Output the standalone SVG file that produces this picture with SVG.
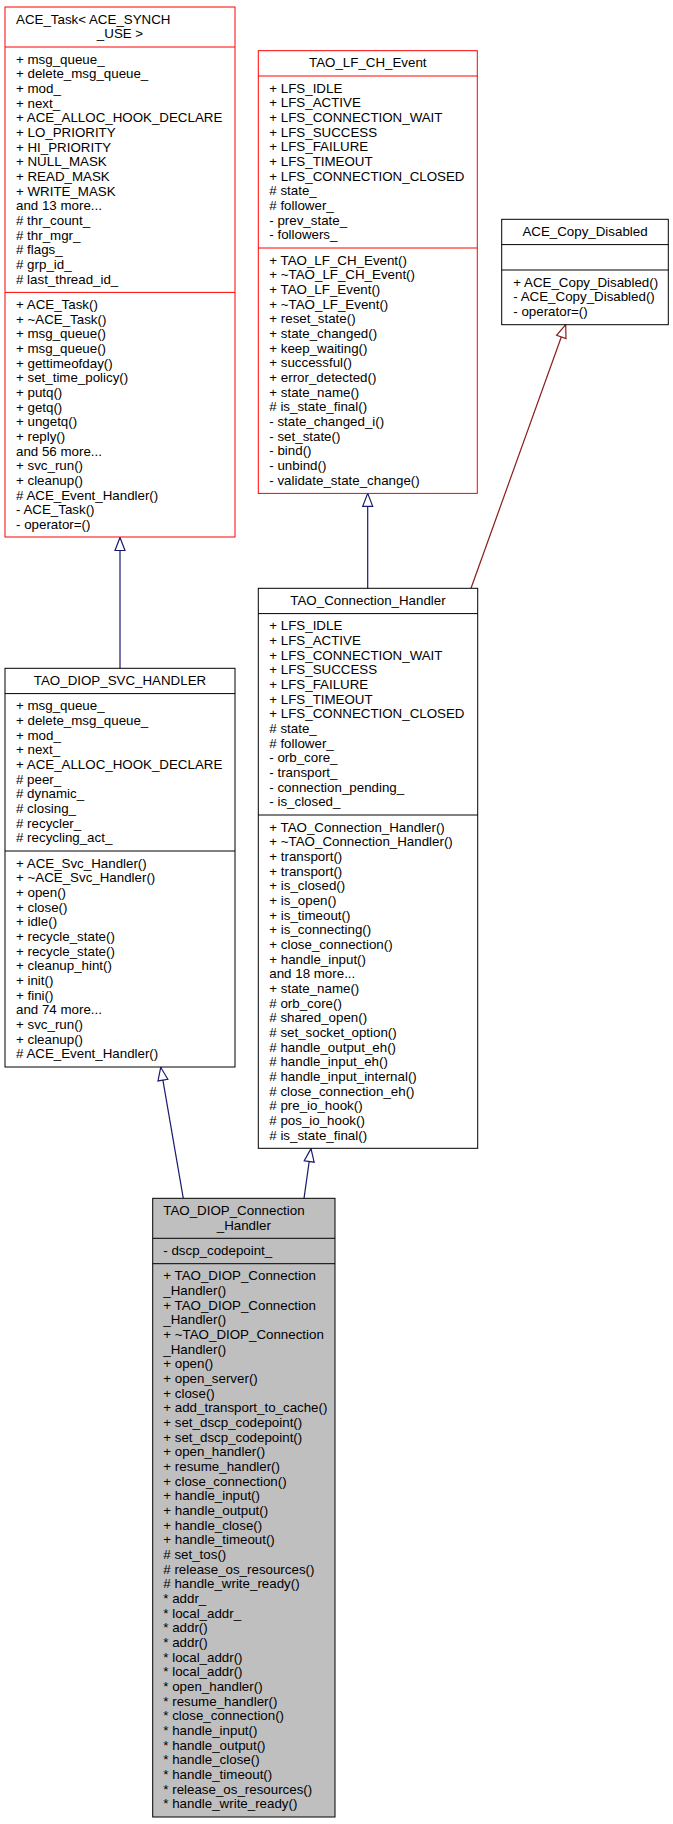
<svg xmlns="http://www.w3.org/2000/svg" width="673" height="1824" viewBox="0 0 673 1824">
<style>
.box{fill:#ffffff;stroke:#000000;stroke-width:1}
.red{stroke:#ff0000}
.grey{fill:#bfbfbf}
.sep{stroke:#000000;stroke-width:1}
.sepr{stroke:#ff0000;stroke-width:1}
.t{font-family:"Liberation Sans",Arial,Helvetica,sans-serif;font-size:13.33px;fill:#000000}
.c{text-anchor:middle}
.pub{fill:none;stroke:#191970;stroke-width:1.2}
.priv{fill:none;stroke:#8b1a1a;stroke-width:1.2}
</style>
<defs>
<marker id="aBlue" viewBox="-1 -7 16 14" refX="13" refY="0" markerWidth="16" markerHeight="14" orient="auto" markerUnits="userSpaceOnUse">
<path d="M13,0 L0,-5 L0,5 Z" fill="#ffffff" stroke="#191970" stroke-width="1.2"/>
</marker>
<marker id="aRed" viewBox="-1 -7 16 14" refX="13" refY="0" markerWidth="16" markerHeight="14" orient="auto" markerUnits="userSpaceOnUse">
<path d="M13,0 L0,-5 L0,5 Z" fill="#ffffff" stroke="#8b1a1a" stroke-width="1.2"/>
</marker>
</defs>
<rect width="673" height="1824" fill="#ffffff"/>

<g id="connectors">
<path class="pub" d="M120,668.3 L120,537.5" marker-end="url(#aBlue)"/>
<path class="pub" d="M367.7,588.3 L367.7,493.4" marker-end="url(#aBlue)"/>
<path class="priv" d="M471,588.3 L565.7,324.7" marker-end="url(#aRed)"/>
<path class="pub" d="M183.3,1198.3 L160.7,1067.3" marker-end="url(#aBlue)"/>
<path class="pub" d="M304,1198.3 L311,1148.6" marker-end="url(#aBlue)"/>
</g>

<g id="node_ACE_Task">
<rect class="box red" x="5" y="7" width="230" height="530"/>
<line class="sepr" x1="5" y1="47" x2="235" y2="47"/>
<line class="sepr" x1="5" y1="292.4" x2="235" y2="292.4"/>
<text class="t" x="16" y="23.6">ACE_Task&lt; ACE_SYNCH</text>
<text class="t c" x="120" y="38.3">_USE &gt;</text>
<text class="t" x="16" y="63.6">
<tspan x="16" dy="0">+ msg_queue_</tspan>
<tspan x="16" dy="14.67">+ delete_msg_queue_</tspan>
<tspan x="16" dy="14.67">+ mod_</tspan>
<tspan x="16" dy="14.67">+ next_</tspan>
<tspan x="16" dy="14.67">+ ACE_ALLOC_HOOK_DECLARE</tspan>
<tspan x="16" dy="14.67">+ LO_PRIORITY</tspan>
<tspan x="16" dy="14.67">+ HI_PRIORITY</tspan>
<tspan x="16" dy="14.67">+ NULL_MASK</tspan>
<tspan x="16" dy="14.67">+ READ_MASK</tspan>
<tspan x="16" dy="14.67">+ WRITE_MASK</tspan>
<tspan x="16" dy="14.67">and 13 more...</tspan>
<tspan x="16" dy="14.67"># thr_count_</tspan>
<tspan x="16" dy="14.67"># thr_mgr_</tspan>
<tspan x="16" dy="14.67"># flags_</tspan>
<tspan x="16" dy="14.67"># grp_id_</tspan>
<tspan x="16" dy="14.67"># last_thread_id_</tspan>
</text>
<text class="t" x="16" y="309">
<tspan x="16" dy="0">+ ACE_Task()</tspan>
<tspan x="16" dy="14.67">+ ~ACE_Task()</tspan>
<tspan x="16" dy="14.67">+ msg_queue()</tspan>
<tspan x="16" dy="14.67">+ msg_queue()</tspan>
<tspan x="16" dy="14.67">+ gettimeofday()</tspan>
<tspan x="16" dy="14.67">+ set_time_policy()</tspan>
<tspan x="16" dy="14.67">+ putq()</tspan>
<tspan x="16" dy="14.67">+ getq()</tspan>
<tspan x="16" dy="14.67">+ ungetq()</tspan>
<tspan x="16" dy="14.67">+ reply()</tspan>
<tspan x="16" dy="14.67">and 56 more...</tspan>
<tspan x="16" dy="14.67">+ svc_run()</tspan>
<tspan x="16" dy="14.67">+ cleanup()</tspan>
<tspan x="16" dy="14.67"># ACE_Event_Handler()</tspan>
<tspan x="16" dy="14.67">- ACE_Task()</tspan>
<tspan x="16" dy="14.67">- operator=()</tspan>
</text>
</g>

<g id="node_TAO_LF_CH_Event">
<rect class="box red" x="258.3" y="50.7" width="219" height="442.7"/>
<line class="sepr" x1="258.3" y1="76" x2="477.3" y2="76"/>
<line class="sepr" x1="258.3" y1="248" x2="477.3" y2="248"/>
<text class="t c" x="367.8" y="67.3">TAO_LF_CH_Event</text>
<text class="t" x="269.3" y="92.6">
<tspan x="269.3" dy="0">+ LFS_IDLE</tspan>
<tspan x="269.3" dy="14.67">+ LFS_ACTIVE</tspan>
<tspan x="269.3" dy="14.67">+ LFS_CONNECTION_WAIT</tspan>
<tspan x="269.3" dy="14.67">+ LFS_SUCCESS</tspan>
<tspan x="269.3" dy="14.67">+ LFS_FAILURE</tspan>
<tspan x="269.3" dy="14.67">+ LFS_TIMEOUT</tspan>
<tspan x="269.3" dy="14.67">+ LFS_CONNECTION_CLOSED</tspan>
<tspan x="269.3" dy="14.67"># state_</tspan>
<tspan x="269.3" dy="14.67"># follower_</tspan>
<tspan x="269.3" dy="14.67">- prev_state_</tspan>
<tspan x="269.3" dy="14.67">- followers_</tspan>
</text>
<text class="t" x="269.3" y="264.6">
<tspan x="269.3" dy="0">+ TAO_LF_CH_Event()</tspan>
<tspan x="269.3" dy="14.67">+ ~TAO_LF_CH_Event()</tspan>
<tspan x="269.3" dy="14.67">+ TAO_LF_Event()</tspan>
<tspan x="269.3" dy="14.67">+ ~TAO_LF_Event()</tspan>
<tspan x="269.3" dy="14.67">+ reset_state()</tspan>
<tspan x="269.3" dy="14.67">+ state_changed()</tspan>
<tspan x="269.3" dy="14.67">+ keep_waiting()</tspan>
<tspan x="269.3" dy="14.67">+ successful()</tspan>
<tspan x="269.3" dy="14.67">+ error_detected()</tspan>
<tspan x="269.3" dy="14.67">+ state_name()</tspan>
<tspan x="269.3" dy="14.67"># is_state_final()</tspan>
<tspan x="269.3" dy="14.67">- state_changed_i()</tspan>
<tspan x="269.3" dy="14.67">- set_state()</tspan>
<tspan x="269.3" dy="14.67">- bind()</tspan>
<tspan x="269.3" dy="14.67">- unbind()</tspan>
<tspan x="269.3" dy="14.67">- validate_state_change()</tspan>
</text>
</g>

<g id="node_ACE_Copy_Disabled">
<rect class="box" x="501.7" y="219.3" width="166.6" height="105.4"/>
<line class="sep" x1="501.7" y1="244.6" x2="668.3" y2="244.6"/>
<line class="sep" x1="501.7" y1="270" x2="668.3" y2="270"/>
<text class="t c" x="585" y="235.9">ACE_Copy_Disabled</text>
<text class="t" x="513.3" y="286.6">
<tspan x="513.3" dy="0">+ ACE_Copy_Disabled()</tspan>
<tspan x="513.3" dy="14.67">- ACE_Copy_Disabled()</tspan>
<tspan x="513.3" dy="14.67">- operator=()</tspan>
</text>
</g>

<g id="node_TAO_DIOP_SVC_HANDLER">
<rect class="box" x="5" y="668.3" width="230" height="398.7"/>
<line class="sep" x1="5" y1="693.6" x2="235" y2="693.6"/>
<line class="sep" x1="5" y1="851" x2="235" y2="851"/>
<text class="t c" x="120" y="684.9">TAO_DIOP_SVC_HANDLER</text>
<text class="t" x="16" y="710.2">
<tspan x="16" dy="0">+ msg_queue_</tspan>
<tspan x="16" dy="14.67">+ delete_msg_queue_</tspan>
<tspan x="16" dy="14.67">+ mod_</tspan>
<tspan x="16" dy="14.67">+ next_</tspan>
<tspan x="16" dy="14.67">+ ACE_ALLOC_HOOK_DECLARE</tspan>
<tspan x="16" dy="14.67"># peer_</tspan>
<tspan x="16" dy="14.67"># dynamic_</tspan>
<tspan x="16" dy="14.67"># closing_</tspan>
<tspan x="16" dy="14.67"># recycler_</tspan>
<tspan x="16" dy="14.67"># recycling_act_</tspan>
</text>
<text class="t" x="16" y="867.6">
<tspan x="16" dy="0">+ ACE_Svc_Handler()</tspan>
<tspan x="16" dy="14.67">+ ~ACE_Svc_Handler()</tspan>
<tspan x="16" dy="14.67">+ open()</tspan>
<tspan x="16" dy="14.67">+ close()</tspan>
<tspan x="16" dy="14.67">+ idle()</tspan>
<tspan x="16" dy="14.67">+ recycle_state()</tspan>
<tspan x="16" dy="14.67">+ recycle_state()</tspan>
<tspan x="16" dy="14.67">+ cleanup_hint()</tspan>
<tspan x="16" dy="14.67">+ init()</tspan>
<tspan x="16" dy="14.67">+ fini()</tspan>
<tspan x="16" dy="14.67">and 74 more...</tspan>
<tspan x="16" dy="14.67">+ svc_run()</tspan>
<tspan x="16" dy="14.67">+ cleanup()</tspan>
<tspan x="16" dy="14.67"># ACE_Event_Handler()</tspan>
</text>
</g>

<g id="node_TAO_Connection_Handler">
<rect class="box" x="258.3" y="588.3" width="219.4" height="560"/>
<line class="sep" x1="258.3" y1="613.6" x2="477.7" y2="613.6"/>
<line class="sep" x1="258.3" y1="815" x2="477.7" y2="815"/>
<text class="t c" x="368" y="604.9">TAO_Connection_Handler</text>
<text class="t" x="269.3" y="630.2">
<tspan x="269.3" dy="0">+ LFS_IDLE</tspan>
<tspan x="269.3" dy="14.67">+ LFS_ACTIVE</tspan>
<tspan x="269.3" dy="14.67">+ LFS_CONNECTION_WAIT</tspan>
<tspan x="269.3" dy="14.67">+ LFS_SUCCESS</tspan>
<tspan x="269.3" dy="14.67">+ LFS_FAILURE</tspan>
<tspan x="269.3" dy="14.67">+ LFS_TIMEOUT</tspan>
<tspan x="269.3" dy="14.67">+ LFS_CONNECTION_CLOSED</tspan>
<tspan x="269.3" dy="14.67"># state_</tspan>
<tspan x="269.3" dy="14.67"># follower_</tspan>
<tspan x="269.3" dy="14.67">- orb_core_</tspan>
<tspan x="269.3" dy="14.67">- transport_</tspan>
<tspan x="269.3" dy="14.67">- connection_pending_</tspan>
<tspan x="269.3" dy="14.67">- is_closed_</tspan>
</text>
<text class="t" x="269.3" y="831.6">
<tspan x="269.3" dy="0">+ TAO_Connection_Handler()</tspan>
<tspan x="269.3" dy="14.67">+ ~TAO_Connection_Handler()</tspan>
<tspan x="269.3" dy="14.67">+ transport()</tspan>
<tspan x="269.3" dy="14.67">+ transport()</tspan>
<tspan x="269.3" dy="14.67">+ is_closed()</tspan>
<tspan x="269.3" dy="14.67">+ is_open()</tspan>
<tspan x="269.3" dy="14.67">+ is_timeout()</tspan>
<tspan x="269.3" dy="14.67">+ is_connecting()</tspan>
<tspan x="269.3" dy="14.67">+ close_connection()</tspan>
<tspan x="269.3" dy="14.67">+ handle_input()</tspan>
<tspan x="269.3" dy="14.67">and 18 more...</tspan>
<tspan x="269.3" dy="14.67">+ state_name()</tspan>
<tspan x="269.3" dy="14.67"># orb_core()</tspan>
<tspan x="269.3" dy="14.67"># shared_open()</tspan>
<tspan x="269.3" dy="14.67"># set_socket_option()</tspan>
<tspan x="269.3" dy="14.67"># handle_output_eh()</tspan>
<tspan x="269.3" dy="14.67"># handle_input_eh()</tspan>
<tspan x="269.3" dy="14.67"># handle_input_internal()</tspan>
<tspan x="269.3" dy="14.67"># close_connection_eh()</tspan>
<tspan x="269.3" dy="14.67"># pre_io_hook()</tspan>
<tspan x="269.3" dy="14.67"># pos_io_hook()</tspan>
<tspan x="269.3" dy="14.67"># is_state_final()</tspan>
</text>
</g>

<g id="node_TAO_DIOP_Connection_Handler">
<rect class="box grey" x="152.7" y="1198.3" width="182.3" height="618.7"/>
<line class="sep" x1="152.7" y1="1238.3" x2="335" y2="1238.3"/>
<line class="sep" x1="152.7" y1="1263.7" x2="335" y2="1263.7"/>
<text class="t" x="163.3" y="1214.9">TAO_DIOP_Connection</text>
<text class="t c" x="243.8" y="1229.6">_Handler</text>
<text class="t" x="163.3" y="1254.9">- dscp_codepoint_</text>
<text class="t" x="163.3" y="1280.3">
<tspan x="163.3" dy="0">+ TAO_DIOP_Connection</tspan>
<tspan x="163.3" dy="14.67">_Handler()</tspan>
<tspan x="163.3" dy="14.67">+ TAO_DIOP_Connection</tspan>
<tspan x="163.3" dy="14.67">_Handler()</tspan>
<tspan x="163.3" dy="14.67">+ ~TAO_DIOP_Connection</tspan>
<tspan x="163.3" dy="14.67">_Handler()</tspan>
<tspan x="163.3" dy="14.67">+ open()</tspan>
<tspan x="163.3" dy="14.67">+ open_server()</tspan>
<tspan x="163.3" dy="14.67">+ close()</tspan>
<tspan x="163.3" dy="14.67">+ add_transport_to_cache()</tspan>
<tspan x="163.3" dy="14.67">+ set_dscp_codepoint()</tspan>
<tspan x="163.3" dy="14.67">+ set_dscp_codepoint()</tspan>
<tspan x="163.3" dy="14.67">+ open_handler()</tspan>
<tspan x="163.3" dy="14.67">+ resume_handler()</tspan>
<tspan x="163.3" dy="14.67">+ close_connection()</tspan>
<tspan x="163.3" dy="14.67">+ handle_input()</tspan>
<tspan x="163.3" dy="14.67">+ handle_output()</tspan>
<tspan x="163.3" dy="14.67">+ handle_close()</tspan>
<tspan x="163.3" dy="14.67">+ handle_timeout()</tspan>
<tspan x="163.3" dy="14.67"># set_tos()</tspan>
<tspan x="163.3" dy="14.67"># release_os_resources()</tspan>
<tspan x="163.3" dy="14.67"># handle_write_ready()</tspan>
<tspan x="163.3" dy="14.67">* addr_</tspan>
<tspan x="163.3" dy="14.67">* local_addr_</tspan>
<tspan x="163.3" dy="14.67">* addr()</tspan>
<tspan x="163.3" dy="14.67">* addr()</tspan>
<tspan x="163.3" dy="14.67">* local_addr()</tspan>
<tspan x="163.3" dy="14.67">* local_addr()</tspan>
<tspan x="163.3" dy="14.67">* open_handler()</tspan>
<tspan x="163.3" dy="14.67">* resume_handler()</tspan>
<tspan x="163.3" dy="14.67">* close_connection()</tspan>
<tspan x="163.3" dy="14.67">* handle_input()</tspan>
<tspan x="163.3" dy="14.67">* handle_output()</tspan>
<tspan x="163.3" dy="14.67">* handle_close()</tspan>
<tspan x="163.3" dy="14.67">* handle_timeout()</tspan>
<tspan x="163.3" dy="14.67">* release_os_resources()</tspan>
<tspan x="163.3" dy="14.67">* handle_write_ready()</tspan>
</text>
</g>
</svg>
